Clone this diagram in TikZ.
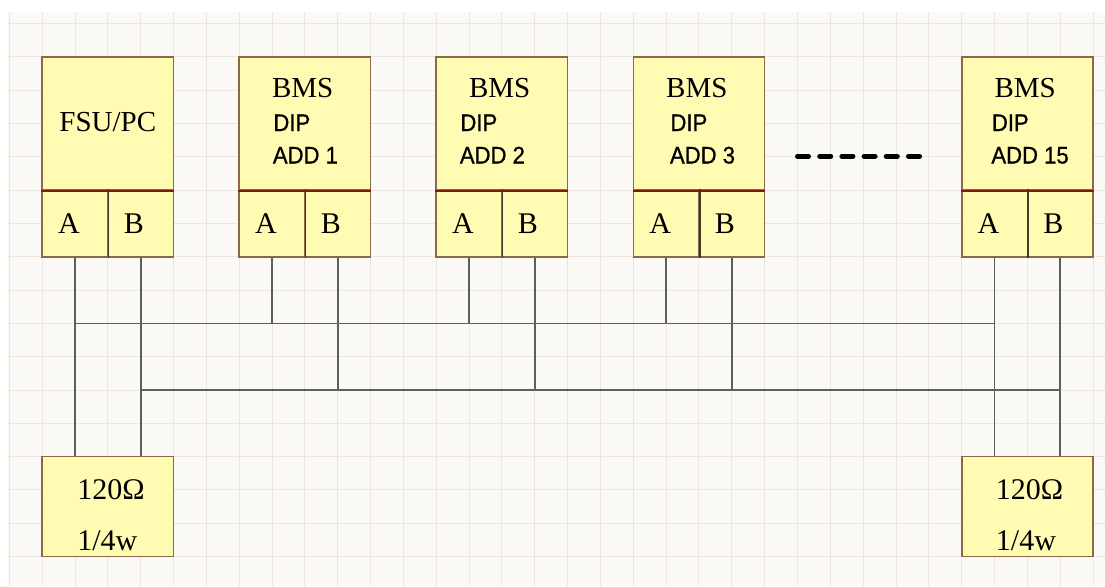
\documentclass[tikz,border=0pt]{standalone}
\usepackage{fontspec}
\setmainfont{Liberation Serif}
\newfontfamily\dipfont[FakeStretch=0.92,FakeBold=0.8]{Liberation Sans}
\definecolor{bg}{RGB}{252,250,246}
\definecolor{gridc}{RGB}{236,231,224}
\definecolor{boxfill}{RGB}{255,251,178}
\definecolor{boxdraw}{RGB}{140,105,70}
\definecolor{divred}{RGB}{125,25,15}
\definecolor{divdark}{RGB}{65,55,45}
\definecolor{wirec}{RGB}{95,95,95}
\begin{document}
\begin{tikzpicture}[x=1pt,y=-1pt,
  gridline/.style={draw=gridc, line width=1pt},
  devtop/.style={draw=boxdraw, fill=boxfill, line width=1.6pt, minimum width=131.36pt, minimum height=133.2pt, inner sep=0pt},
  cell/.style={draw=boxdraw, fill=boxfill, line width=1.6pt, minimum height=66.6pt, inner xsep=16pt, inner ysep=0pt, text width=33.68pt, align=left, font=\fontsize{30}{34}\selectfont},
  rbox/.style={draw=boxdraw, fill=boxfill, line width=1.6pt, minimum width=131.36pt, minimum height=99.9pt, inner sep=0pt},
  abdiv/.style={draw=divdark, line width=1.6pt},
  reddiv/.style={draw=divred, line width=2.6pt},
  serifbig/.style={inner sep=0pt, font=\fontsize{29}{34}\selectfont},
  rtext/.style={inner sep=0pt, anchor=base west, font=\fontsize{30}{34}\selectfont},
  diptext/.style={inner sep=0pt, anchor=base west, font=\dipfont\fontsize{24}{28}\selectfont},
  wire/.style={draw=wirec, line width=1.8pt},
  dots/.style={draw=black, line width=5pt, line cap=round, dash pattern=on 11pt off 11.2pt}
]
\useasboundingbox (0,0) rectangle (1105,586);
\fill[white] (0,0) rectangle (1105,586);
\fill[bg] (8,12) rectangle (1105,586);
\foreach \k in {-2,...,31} \draw[gridline] ({75+\k*32.84},12) -- ({75+\k*32.84},586);
\foreach \j in {-1,...,15} \draw[gridline] (8,{57+\j*33.3}) -- (1105,{57+\j*33.3});

% devices
\foreach \n/\L in {0/42.16, 1/239.2, 2/436.2, 3/633.3, 15/961.7} {
  \node[devtop] (d\n) at ({\L+65.68},123.6) {};
  \node[cell] (a\n) at ({\L+32.84},223.5) {A};
  \node[cell] (b\n) at ({\L+98.52},223.5) {B};
  \draw[abdiv] (a\n.north east) -- (a\n.south east);
  \draw[reddiv] (d\n.south west) -- (d\n.south east);
}
\node[serifbig, anchor=base] (fsu) at (107.8,131) {FSU/PC};
\foreach \n/\L/\o in {1/239.2/34, 2/436.2/24, 3/633.3/37, 15/961.7/30} {
  \node[serifbig, anchor=base] (bms\n) at ({\L+63.5},97) {BMS};
  \node[diptext] (dip\n) at ({\L+\o},131) {DIP};
  \node[diptext] (add\n) at ({\L+\o-0.5},163.5) {ADD \n};
}

% terminating resistors
\node[rbox] (r0) at ({42.16+65.68},506.6) {};
\node[rbox] (r15) at ({961.7+65.68},506.6) {};
\node[rtext] (r0t1) at ({42.16+35},499) {120Ω};
\node[rtext] (r0t2) at ({42.16+35},550) {1/4w};
\node[rtext] (r15t1) at ({961.7+34},499) {120Ω};
\node[rtext] (r15t2) at ({961.7+34},550) {1/4w};

% wiring
\coordinate (busA) at (0,323.4);
\coordinate (busB) at (0,390);
\draw[wire] (a0.south) -- (a0.south |- r0.north);
\draw[wire] (b0.south) -- (b0.south |- r0.north);
\draw[wire] (a15.south) -- (a15.south |- r15.north);
\draw[wire] (b15.south) -- (b15.south |- r15.north);
\foreach \n in {1,2,3} {
  \draw[wire] (a\n.south) -- (a\n.south |- busA);
  \draw[wire] (b\n.south) -- (b\n.south |- busB);
}
\draw[wire] (a0.south |- busA) -- (a15.south |- busA);
\draw[wire] (b0.south |- busB) -- (b15.south |- busB);

% ellipsis
\coordinate (dashL) at (797.5,156.3);
\coordinate (dashR) at (919.5,156.3);
\draw[dots] (dashL) -- (dashR);
\end{tikzpicture}
\end{document}
